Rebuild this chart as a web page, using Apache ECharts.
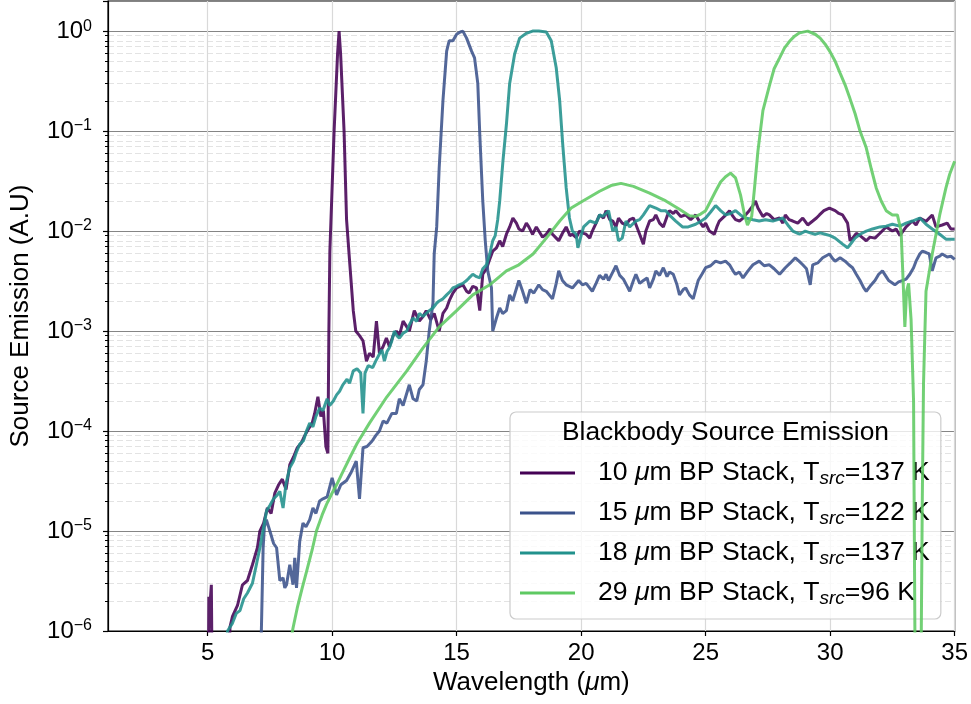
<!DOCTYPE html>
<html>
<head>
<meta charset="utf-8">
<script src="https://cdn.jsdelivr.net/npm/echarts@6/dist/echarts.min.js"></script>
<style>
  html, body { margin: 0; padding: 0; background: #fff; }
  #chart { width: 971px; height: 704px; }
</style>
</head>
<body>
<div id="chart"></div>
<script>
const FONT = "'Liberation Sans', Arial, Helvetica, sans-serif";

const xTicks = [5, 10, 15, 20, 25, 30, 35];
const bands = ["10", "15", "18", "29"];
const temps = [137, 122, 137, 96];
const colors = ["#440154", "#3b528b", "#21918c", "#5ec962"];

// [wavelength (um), emission]
const pts10 = [[4.9,1e-7],[5.02,1e-7],[5.05,2.2e-6],[5.1,1.9e-6],[5.15,2.9e-6],[5.2,1e-7],[5.85,5e-7],[5.9,1.1e-6],[6.0,1.4e-6],[6.2,1.8e-6],[6.4,2.9e-6],[6.6,3.2e-6],[6.8,4.6e-6],[7.0,6.8e-6],[7.1,1e-5],[7.25,1.2e-5],[7.4,1.7e-5],[7.55,1.5e-5],[7.7,2.4e-5],[7.85,2.9e-5],[8.0,3.3e-5],[8.15,2.6e-5],[8.3,4.6e-5],[8.45,5.5e-5],[8.6,6.8e-5],[8.75,7.5e-5],[8.9,9e-5],[9.05,1.05e-4],[9.2,1.2e-4],[9.3,1.5e-4],[9.43,2.2e-4],[9.55,1.4e-4],[9.65,1.6e-4],[9.75,7e-5],[9.83,6e-5],[9.87,1e-3],[9.91,6.3e-3],[10.08,0.1],[10.22,0.6],[10.28,1.0],[10.34,0.6],[10.48,0.1],[10.58,1.3e-2],[10.71,4.7e-3],[10.85,1.6e-3],[10.95,1e-3],[11.1,9e-4],[11.24,8e-4],[11.38,5e-4],[11.5,6e-4],[11.65,5.5e-4],[11.78,1.26e-3],[11.9,6e-4],[12.05,7e-4],[12.18,8.5e-4],[12.3,7e-4],[12.45,9e-4],[12.58,1e-3],[12.7,9e-4],[12.85,1.26e-3],[13.0,1.1e-3],[13.1,1e-3],[13.3,1.6e-3],[13.5,1.26e-3],[13.65,1.4e-3],[13.78,1.6e-3],[13.95,1.3e-3],[14.1,1.5e-3],[14.3,1e-3],[14.45,1.5e-3],[14.6,1.7e-3],[14.7,2e-3],[14.85,2.4e-3],[15.0,2.7e-3],[15.25,2.9e-3],[15.4,2.5e-3],[15.5,2.4e-3],[15.65,2.8e-3],[15.8,2.7e-3],[15.93,1.6e-3],[16.05,3.7e-3],[16.2,4.2e-3],[16.3,5e-3],[16.45,6.3e-3],[16.6,6.8e-3],[16.73,8e-3],[16.85,7e-3],[17.0,9.3e-3],[17.13,1.1e-2],[17.26,1.35e-2],[17.4,1.2e-2],[17.5,1.05e-2],[17.65,1e-2],[17.8,1.2e-2],[17.9,1.1e-2],[18.05,9.3e-3],[18.2,1.1e-2],[18.3,1e-2],[18.45,8.7e-3],[18.6,9.3e-3],[18.75,1.05e-2],[18.85,9.3e-3],[19.0,8.5e-3],[19.1,8e-3],[19.25,9.5e-3],[19.4,1.1e-2],[19.55,9e-3],[19.65,9.3e-3],[19.8,8.6e-3],[19.94,1e-2],[20.1,9.5e-3],[20.2,9.3e-3],[20.35,8.5e-3],[20.45,1e-2],[20.6,1.2e-2],[20.74,1.45e-2],[20.9,1.35e-2],[21.0,1.6e-2],[21.15,1.3e-2],[21.27,1.26e-2],[21.4,1.1e-2],[21.5,1.35e-2],[21.65,1.2e-2],[21.8,1.15e-2],[21.95,1.3e-2],[22.1,1.35e-2],[22.3,1e-2],[22.5,7.4e-3],[22.6,1e-2],[22.75,1.26e-2],[22.9,1.3e-2],[23.0,1.45e-2],[23.15,1.2e-2],[23.3,1.1e-2],[23.45,1.4e-2],[23.55,1.6e-2],[23.7,1.5e-2],[23.8,1.6e-2],[24.0,1.4e-2],[24.2,1.45e-2],[24.4,1.3e-2],[24.6,1.45e-2],[24.75,1.25e-2],[24.9,1.1e-2],[25.0,1.2e-2],[25.15,1e-2],[25.35,9.3e-3],[25.45,1.1e-2],[25.55,1.26e-2],[25.75,1.4e-2],[25.96,1.6e-2],[26.1,1.4e-2],[26.2,1.3e-2],[26.36,1.26e-2],[26.5,1.35e-2],[26.6,1.45e-2],[26.75,1.6e-2],[26.9,1.8e-2],[27.0,2e-2],[27.1,1.7e-2],[27.3,1.4e-2],[27.45,1.5e-2],[27.56,1.45e-2],[27.75,1.3e-2],[27.97,1.35e-2],[28.1,1.2e-2],[28.2,1.45e-2],[28.35,1.3e-2],[28.5,1.26e-2],[28.7,1.2e-2],[28.9,1.35e-2],[29.1,1.15e-2],[29.3,1.26e-2],[29.45,1.35e-2],[29.57,1.45e-2],[29.75,1.6e-2],[29.97,1.7e-2],[30.2,1.6e-2],[30.35,1.5e-2],[30.5,1.45e-2],[30.7,1.2e-2],[30.8,8e-3],[30.9,8.5e-3],[31.05,9.5e-3],[31.2,9e-3],[31.45,8e-3],[31.6,8.7e-3],[31.8,8.5e-3],[32.0,9.5e-3],[32.25,1.1e-2],[32.5,1e-2],[32.65,1.05e-2],[32.8,9e-3],[33.05,1.1e-2],[33.3,1.26e-2],[33.45,1.15e-2],[33.6,1.35e-2],[33.85,1.25e-2],[34.1,1.45e-2],[34.25,1.1e-2],[34.5,1.15e-2],[34.7,1.2e-2],[34.85,1.05e-2],[35.0,1.05e-2]];

const pts15 = [[7.0,5e-7],[7.15,8e-7],[7.2,3e-6],[7.23,6.8e-6],[7.28,1.1e-5],[7.36,1.3e-5],[7.5,1e-5],[7.65,7.5e-6],[7.77,6.8e-6],[7.9,3.2e-6],[8.03,3.4e-6],[8.1,2.7e-6],[8.17,2.9e-6],[8.3,4.6e-6],[8.43,2.9e-6],[8.5,5.4e-6],[8.57,2.7e-6],[8.7,7.9e-6],[8.83,1.2e-5],[8.95,1.1e-5],[9.1,1.3e-5],[9.23,1.7e-5],[9.35,1.5e-5],[9.5,2e-5],[9.63,2.1e-5],[9.8,2.2e-5],[10.0,3.4e-5],[10.18,2.3e-5],[10.35,2.9e-5],[10.58,3.2e-5],[10.75,3.8e-5],[10.97,5e-5],[11.1,2.1e-5],[11.24,6.8e-5],[11.4,7e-5],[11.6,7.9e-5],[11.75,9e-5],[11.9,1e-4],[12.05,1.26e-4],[12.2,1.2e-4],[12.4,1.5e-4],[12.58,1.5e-4],[12.7,2.1e-4],[12.85,1.8e-4],[13.1,2.9e-4],[13.25,2.1e-4],[13.4,2e-4],[13.5,2.6e-4],[13.65,2.9e-4],[13.78,5e-4],[13.9,1e-3],[14.05,1.9e-3],[14.1,5.9e-3],[14.2,1.1e-2],[14.3,4.3e-2],[14.45,0.2],[14.6,0.63],[14.7,0.8],[14.85,0.8],[15.0,0.93],[15.15,0.98],[15.25,1.0],[15.4,0.85],[15.6,0.63],[15.72,0.54],[15.85,0.3],[15.93,9.3e-2],[16.05,2e-2],[16.15,8e-3],[16.25,4e-3],[16.4,2.7e-3],[16.45,1e-3],[16.6,1.35e-3],[16.73,1.7e-3],[16.85,1.5e-3],[17.0,1.6e-3],[17.13,2.3e-3],[17.25,2e-3],[17.5,3.2e-3],[17.65,2.5e-3],[17.8,1.9e-3],[17.95,2.6e-3],[18.1,2.4e-3],[18.3,2.9e-3],[18.45,2.6e-3],[18.6,2.5e-3],[18.85,2.1e-3],[19.0,3e-3],[19.1,4e-3],[19.25,3.2e-3],[19.4,2.9e-3],[19.65,2.7e-3],[19.9,3.2e-3],[20.05,2.9e-3],[20.2,3e-3],[20.45,2.5e-3],[20.6,3e-3],[20.74,3.6e-3],[20.9,3.3e-3],[21.0,3.7e-3],[21.1,3.2e-3],[21.25,3.8e-3],[21.4,4.5e-3],[21.55,3.6e-3],[21.7,3.3e-3],[21.85,2.8e-3],[21.95,2.5e-3],[22.1,3.2e-3],[22.2,3.7e-3],[22.35,3e-3],[22.5,3.2e-3],[22.65,3.4e-3],[22.75,2.7e-3],[22.9,3.3e-3],[23.0,4e-3],[23.15,3.6e-3],[23.3,4.3e-3],[23.45,3.5e-3],[23.55,3.9e-3],[23.7,3.7e-3],[23.85,2.9e-3],[23.95,2.3e-3],[24.1,2.6e-3],[24.2,2.7e-3],[24.35,2.3e-3],[24.5,2.1e-3],[24.6,2.6e-3],[24.7,3.2e-3],[24.85,3.7e-3],[25.0,4.3e-3],[25.2,4.5e-3],[25.4,5e-3],[25.6,4.8e-3],[25.8,5e-3],[25.96,4.6e-3],[26.1,4e-3],[26.2,3.7e-3],[26.35,3.9e-3],[26.5,3.4e-3],[26.7,4e-3],[26.9,4.6e-3],[27.15,5e-3],[27.35,4.5e-3],[27.56,4.6e-3],[27.75,4.2e-3],[27.97,3.7e-3],[28.2,4.3e-3],[28.4,4.8e-3],[28.6,5.4e-3],[28.75,5e-3],[28.9,4.6e-3],[29.05,4.2e-3],[29.2,2.9e-3],[29.3,4.6e-3],[29.5,4.8e-3],[29.7,5.4e-3],[29.97,5.9e-3],[30.1,5.3e-3],[30.2,5e-3],[30.4,5.4e-3],[30.6,5e-3],[30.75,4.6e-3],[30.9,4.3e-3],[31.05,3.7e-3],[31.2,3.2e-3],[31.35,2.7e-3],[31.45,2.5e-3],[31.6,2.8e-3],[31.8,3.2e-3],[31.95,3.7e-3],[32.1,4e-3],[32.25,3.5e-3],[32.35,3.2e-3],[32.6,2.9e-3],[32.75,3.1e-3],[32.9,3.2e-3],[33.05,3.3e-3],[33.2,3.7e-3],[33.35,4.3e-3],[33.45,5e-3],[33.6,5.9e-3],[33.7,6.3e-3],[33.85,6.1e-3],[33.98,5.9e-3],[34.1,4e-3],[34.25,5.4e-3],[34.4,5.6e-3],[34.5,5.9e-3],[34.7,5.5e-3],[34.85,5.6e-3],[35.0,5.2e-3]];

const pts18 = [[5.7,5e-7],[5.8,1e-6],[6.0,1.2e-6],[6.15,1.5e-6],[6.3,1.6e-6],[6.45,2.1e-6],[6.6,2.4e-6],[6.8,3e-6],[6.95,4.5e-6],[7.1,6.8e-6],[7.25,1.1e-5],[7.37,1.6e-5],[7.5,1.8e-5],[7.65,2.1e-5],[7.8,2.3e-5],[7.9,2.5e-5],[8.03,1.7e-5],[8.15,3e-5],[8.3,4.3e-5],[8.45,5e-5],[8.55,6e-5],[8.7,7.4e-5],[8.85,8e-5],[8.97,1e-4],[9.1,1.2e-4],[9.23,1.1e-4],[9.35,1.4e-4],[9.5,1.7e-4],[9.63,1.6e-4],[9.8,2.1e-4],[9.9,1.8e-4],[10.05,2e-4],[10.18,2.3e-4],[10.3,2.5e-4],[10.43,2.9e-4],[10.6,3.3e-4],[10.7,3e-4],[10.85,4e-4],[11.0,4.2e-4],[11.15,3.8e-4],[11.24,1.5e-4],[11.32,3.8e-4],[11.45,4.5e-4],[11.63,4.3e-4],[11.75,5e-4],[11.9,5.9e-4],[12.0,6.5e-4],[12.1,5e-4],[12.2,6.2e-4],[12.3,6.8e-4],[12.4,8e-4],[12.5,1e-3],[12.6,9e-4],[12.7,8.5e-4],[12.85,9.5e-4],[13.0,1e-3],[13.1,1.15e-3],[13.25,1.35e-3],[13.4,1.25e-3],[13.5,1.5e-3],[13.65,1.4e-3],[13.78,1.5e-3],[13.9,1.6e-3],[14.05,1.7e-3],[14.2,1.9e-3],[14.3,2e-3],[14.45,2.1e-3],[14.6,2.3e-3],[14.75,2.5e-3],[14.85,2.7e-3],[15.0,2.8e-3],[15.1,2.9e-3],[15.25,3e-3],[15.4,3.2e-3],[15.5,3.4e-3],[15.65,3.7e-3],[15.8,3.5e-3],[15.93,3.4e-3],[16.05,4.2e-3],[16.2,4.6e-3],[16.33,5.9e-3],[16.45,8e-3],[16.55,9e-3],[16.65,1.3e-2],[16.73,2e-2],[16.86,5e-2],[17.0,0.117],[17.13,0.3],[17.33,0.59],[17.53,0.85],[17.8,0.95],[18.05,1.0],[18.3,1.0],[18.6,0.98],[18.8,0.8],[19.0,0.43],[19.14,0.2],[19.26,7.4e-2],[19.4,2.7e-2],[19.53,1.35e-2],[19.65,1e-2],[19.8,9.3e-3],[19.87,6.8e-3],[20.0,9e-3],[20.1,1.1e-2],[20.35,1.26e-2],[20.6,1.2e-2],[20.74,1.45e-2],[20.86,1.4e-2],[21.0,1.5e-2],[21.1,1.6e-2],[21.27,1e-2],[21.4,1.1e-2],[21.5,8e-3],[21.65,8.5e-3],[21.8,1.26e-2],[21.95,1.1e-2],[22.2,1.26e-2],[22.35,1.3e-2],[22.5,1.45e-2],[22.75,1.8e-2],[23.0,1.7e-2],[23.2,1.6e-2],[23.4,1.6e-2],[23.6,1.4e-2],[23.8,1.26e-2],[24.07,1.1e-2],[24.3,1.1e-2],[24.6,1.17e-2],[24.8,1.25e-2],[25.0,1.35e-2],[25.2,1.55e-2],[25.4,1.8e-2],[25.6,1.6e-2],[25.8,1.45e-2],[26.0,1.5e-2],[26.2,1.6e-2],[26.4,1.45e-2],[26.6,1.35e-2],[26.9,1.3e-2],[27.15,1.26e-2],[27.4,1.3e-2],[27.7,1.26e-2],[27.9,1.3e-2],[28.1,1.35e-2],[28.3,1.15e-2],[28.5,1e-2],[28.77,9.3e-3],[29.0,1e-2],[29.2,9.6e-3],[29.4,9.3e-3],[29.6,9.6e-3],[29.8,9.3e-3],[30.0,9e-3],[30.2,8.5e-3],[30.5,7.4e-3],[30.7,6.8e-3],[30.85,7.6e-3],[31.0,8.5e-3],[31.2,9.3e-3],[31.45,1e-2],[31.7,1.05e-2],[32.0,1.1e-2],[32.25,1.12e-2],[32.5,1.17e-2],[32.8,1.12e-2],[33.05,1.2e-2],[33.3,1.26e-2],[33.6,1.35e-2],[33.85,1.17e-2],[34.1,1.05e-2],[34.4,9.3e-3],[34.65,8.3e-3],[35.0,8.3e-3]];

const pts29 = [[8.3,7e-7],[8.43,1.07e-6],[8.6,1.7e-6],[8.8,2.7e-6],[8.97,3.9e-6],[9.2,6.5e-6],[9.37,1e-5],[9.6,1.45e-5],[9.78,1.86e-5],[10.0,2.4e-5],[10.18,2.9e-5],[10.45,4e-5],[10.71,5.4e-5],[11.0,7.5e-5],[11.5,1.2e-4],[12.2,2.2e-4],[13.0,4e-4],[13.65,6.8e-4],[14.3,1.1e-3],[15.0,1.6e-3],[15.65,2.3e-3],[16.33,2.9e-3],[17.0,4e-3],[17.5,4.6e-3],[18.07,5.9e-3],[18.6,8.5e-3],[19.14,1.26e-2],[19.6,1.7e-2],[20.07,2e-2],[20.74,2.5e-2],[21.2,2.85e-2],[21.6,3e-2],[22.1,2.8e-2],[22.75,2.4e-2],[23.4,2e-2],[23.95,1.65e-2],[24.35,1.42e-2],[24.6,1.4e-2],[24.8,1.48e-2],[25.0,1.6e-2],[25.2,2e-2],[25.4,2.5e-2],[25.6,3.1e-2],[25.8,3.5e-2],[26.0,3.8e-2],[26.2,3.4e-2],[26.4,2.3e-2],[26.55,1.5e-2],[26.68,1.15e-2],[26.75,1.1e-2],[26.85,1.4e-2],[26.95,2.5e-2],[27.1,6.3e-2],[27.3,0.16],[27.57,0.29],[27.75,0.42],[27.97,0.54],[28.17,0.68],[28.37,0.79],[28.57,0.89],[28.77,0.96],[29.1,1.0],[29.4,0.93],[29.6,0.85],[29.8,0.74],[30.0,0.62],[30.2,0.5],[30.4,0.38],[30.6,0.29],[30.8,0.21],[31.0,0.15],[31.2,0.1],[31.45,6.8e-2],[31.65,4.2e-2],[31.85,2.7e-2],[32.05,2e-2],[32.25,1.6e-2],[32.5,1.45e-2],[32.7,1.45e-2],[32.85,1e-2],[32.93,3.2e-3],[33.0,1.1e-3],[33.07,2.5e-3],[33.15,3e-3],[33.25,1.3e-3],[33.35,2e-4],[33.45,1e-8],[33.6,1e-8],[33.7,2e-5],[33.75,3e-4],[33.85,2.5e-3],[34.1,5.9e-3],[34.4,1.45e-2],[34.65,2.7e-2],[34.8,3.7e-2],[35.0,5e-2]];

const allPts = [pts10, pts15, pts18, pts29];

const names = bands.map((b, i) => b + " μm BP Stack, Tsrc=" + temps[i] + " K");
const legendText = {};
names.forEach((n, i) => {
  legendText[n] = "{g| }{n|" + bands[i] + " }{i|μ}{n|m BP Stack, T}{s|src}{n|=" + temps[i] + " K}";
});

// minor log gridlines (2..9 x 10^k) placed on a helper axis in log10 units
const minorLog = [];
for (let d = -6; d < 0; d++) {
  for (let k = 2; k <= 9; k++) minorLog.push(d + Math.log10(k));
}

const chart = echarts.init(document.getElementById("chart"));

const option = {
  animation: false,
  backgroundColor: "#fff",
  grid: {
    left: 108, right: 16, top: 1, bottom: 73,
    show: true, borderColor: "#000", borderWidth: 1.2,
  },
  xAxis: {
    type: "value", min: 1, max: 35,
    axisLine: { onZero: false, lineStyle: { color: "#000", width: 1.2 } },
    axisTick: { customValues: xTicks, length: 5, lineStyle: { color: "#000", width: 1.2 } },
    axisLabel: { customValues: xTicks, margin: 10, fontSize: 24, fontFamily: FONT, color: "#000" },
    splitLine: { show: true, lineStyle: { color: "#d9d9d9", width: 1.2 } },
    name: "Wavelength ({i|μ}m)",
    nameLocation: "middle",
    nameGap: 34,
    nameTextStyle: {
      fontSize: 26, fontFamily: FONT, color: "#000",
      rich: { i: { fontSize: 26, fontFamily: FONT, fontStyle: "italic", color: "#000" } },
    },
  },
  yAxis: [
    {
      type: "log", logBase: 10, min: 1e-6, max: 2, interval: 1, position: "left",
      axisLine: { show: true, lineStyle: { color: "#000", width: 1.2 } },
      axisTick: { show: true, length: 5, lineStyle: { color: "#000", width: 1.2 } },
      axisLabel: {
        margin: 16,
        formatter: function (v) {
          const e = Math.log10(v);
          const r = Math.round(e);
          if (Math.abs(e - r) > 1e-6) return "";
          return "{b|10}{e|" + (r < 0 ? "−" + (-r) : r) + "}";
        },
        rich: {
          b: { fontSize: 24, lineHeight: 26, fontFamily: FONT, color: "#000" },
          e: { fontSize: 16, lineHeight: 16, verticalAlign: "top", fontFamily: FONT, color: "#000" },
        },
      },
      splitLine: { show: true, lineStyle: { color: "#858585", width: 1 } },
      name: "Source Emission (A.U)",
      nameLocation: "middle",
      nameGap: 74,
      nameTextStyle: { fontSize: 26, fontFamily: FONT, color: "#000" },
    },
    {
      type: "value", min: -6, max: Math.log10(2), position: "left",
      axisLine: { show: false },
      axisTick: { show: true, customValues: minorLog, length: 3, lineStyle: { color: "#000", width: 1 } },
      axisLabel: { show: false },
      splitLine: { show: true, lineStyle: { color: "#e3e3e3", width: 1, type: [6, 3] } },
    },
  ],
  legend: {
    orient: "vertical",
    left: 510, top: 412,
    padding: [46, 11, 11, 10],
    itemGap: 10, itemWidth: 55, itemHeight: 3,
    icon: "rect",
    backgroundColor: "rgba(255,255,255,0.8)",
    borderColor: "#cccccc", borderWidth: 1.2, borderRadius: 6,
    data: names,
    formatter: (name) => legendText[name],
    textStyle: {
      fontSize: 26, fontFamily: FONT, color: "#000", lineHeight: 30,
      rich: {
        g: { width: 18 },
        n: { fontSize: 26.6, fontFamily: FONT, color: "#000", lineHeight: 30 },
        i: { fontSize: 26.6, fontFamily: FONT, fontStyle: "italic", color: "#000", lineHeight: 30 },
        s: { fontSize: 19, fontFamily: FONT, fontStyle: "italic", color: "#000", lineHeight: 14, verticalAlign: "bottom" },
      },
    },
  },
  graphic: [
    {
      type: "text", x: 725.5, y: 433, z: 100,
      style: {
        text: "Blackbody Source Emission",
        fontSize: 26.4, fontFamily: FONT, fill: "#000",
        align: "center", verticalAlign: "middle",
        textAlign: "center", textVerticalAlign: "middle",
      },
    },
  ],
  series: allPts.map((pts, i) => ({
    name: names[i],
    type: "line",
    data: pts,
    showSymbol: false,
    symbol: "none",
    clip: true,
    silent: true,
    z: 2 + i,
    itemStyle: { color: colors[i] },
    lineStyle: { color: colors[i], width: 3, opacity: 0.88 },
  })),
};

chart.setOption(option);
</script>
</body>
</html>
